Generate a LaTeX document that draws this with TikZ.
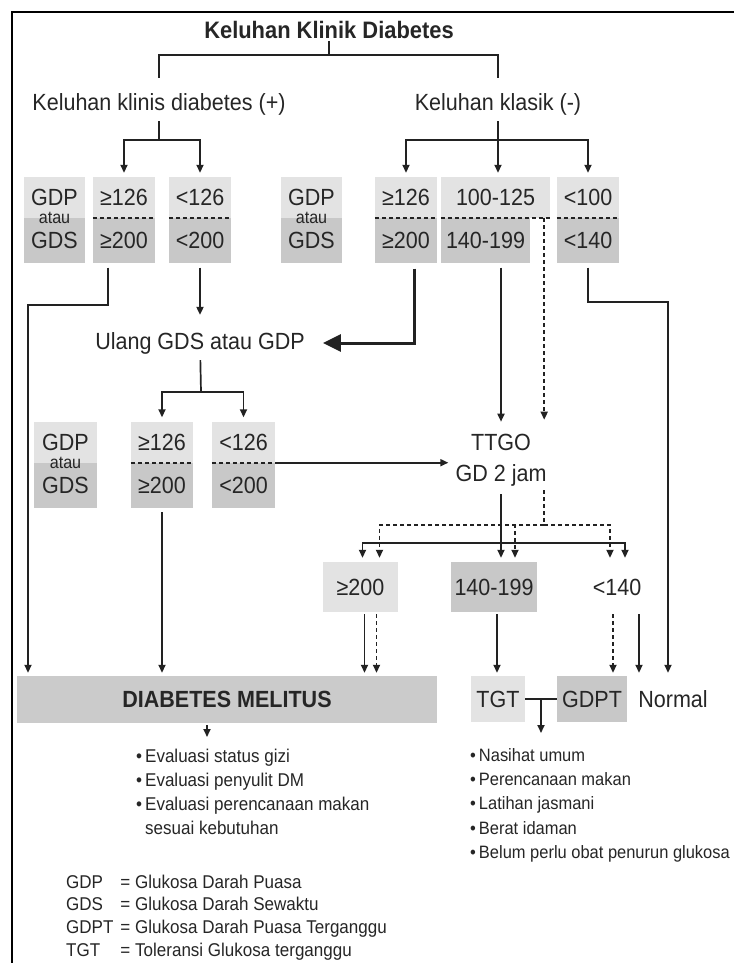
\documentclass[tikz,border=0pt]{standalone}
\usepackage{fontspec}
\setmainfont{Liberation Sans}[FakeStretch=0.92]
\usetikzlibrary{positioning, arrows.meta, calc}
\definecolor{boxlight}{HTML}{E3E3E3}
\definecolor{boxdark}{HTML}{C8C8C8}
\definecolor{dmgray}{HTML}{CBCBCB}
\definecolor{teks}{HTML}{262626}
\definecolor{garis}{HTML}{222222}
\tikzstyle{lbl} = [text=teks, inner sep=2pt, font=\fontsize{23.4}{28}\selectfont]
\tikzstyle{judulfont} = [text=teks, inner sep=2pt, font=\bfseries\fontsize{23.8}{28}\selectfont]
\tikzstyle{hibox} = [lbl, fill=boxlight, minimum width=62pt, minimum height=41pt, inner sep=0pt]
\tikzstyle{lobox} = [lbl, fill=boxdark, minimum width=62pt, minimum height=45pt, inner sep=0pt]
\tikzstyle{polos} = [lbl, minimum height=50pt, inner sep=0pt]
\tikzstyle{kecil} = [lbl, font=\fontsize{17.5}{20}\selectfont]
\tikzstyle{pisah} = [garis, line width=1.6pt, dash pattern=on 4.5pt off 2.5pt]
\tikzstyle{ln} = [garis, line width=1.7pt]
\tikzstyle{dln} = [ln, dash pattern=on 4pt off 3pt]
\tikzstyle{arr} = [ln, -{Triangle[length=8pt,width=7pt]}]
\tikzstyle{darr} = [arr, dash pattern=on 4pt off 3pt]
\tikzstyle{bigarr} = [garis, line width=3pt, -{Triangle[length=18pt,width=17pt]}]
\tikzstyle{daftar} = [text=teks, inner sep=0pt, anchor=north west, font=\fontsize{18.5}{24}\selectfont]

\begin{document}
\begin{tikzpicture}[x=1pt, y=-1pt]
\path[use as bounding box, fill=white] (0,0) rectangle (734,963);
\draw[line width=2.6pt] (12,963) -- (12,12) -- (734,12);

\node[judulfont] (judul) at (329,30) {Keluhan Klinik Diabetes};
\node[lbl] (klinis) at (159,104) {Keluhan klinis diabetes (+)};
\node[lbl] (klasik) at (498,104) {Keluhan klasik (-)};
\coordinate (j1) at (329,55);
\draw[ln] (judul) -- (j1);
\draw[ln, shorten >=13pt] (j1) -| (klinis.north);
\draw[ln, shorten >=13pt] (j1) -| (klasik.north);

\node[hibox, minimum width=61pt] (gdp1a) at (54.5,197.5) {GDP};
\node[lobox, minimum width=61pt, below=0pt] at (gdp1a.south) (gdp1b) {GDS};
\node[kecil] (atau1) at (gdp1a.south) {atau};
\node[hibox] (a1a) at (124,197.5) {≥126};
\node[lobox, below=0pt] at (a1a.south) (a1b) {≥200};
\draw[pisah] (a1a.south west) -- (a1a.south east);
\node[hibox] (b1a) at (200,197.5) {<126};
\node[lobox, below=0pt] at (b1a.south) (b1b) {<200};
\draw[pisah] (b1a.south west) -- (b1a.south east);

\node[hibox, minimum width=61pt] (gdp2a) at (311.5,197.5) {GDP};
\node[lobox, minimum width=61pt, below=0pt] at (gdp2a.south) (gdp2b) {GDS};
\node[kecil] (atau2) at (gdp2a.south) {atau};
\node[hibox] (c1a) at (406,197.5) {≥126};
\node[lobox, below=0pt] at (c1a.south) (c1b) {≥200};
\draw[pisah] (c1a.south west) -- (c1a.south east);
\node[hibox, minimum width=109pt] (d1a) at (495.5,197.5) {100-125};
\node[lobox, minimum width=89pt, below right=0pt] at (d1a.south west) (d1b) {140-199};
\draw[pisah] (d1a.south west) -- (d1a.south east);
\node[hibox] (e1a) at (588,197.5) {<100};
\node[lobox, below=0pt] at (e1a.south) (e1b) {<140};
\draw[pisah] (e1a.south west) -- (e1a.south east);

\coordinate (k1) at (159,140);
\draw[ln, shorten <=4pt] (klinis) -- (k1);
\draw[arr, shorten >=4pt] (k1) -| (a1a.north);
\draw[arr, shorten >=4pt] (k1) -| (b1a.north);
\coordinate (k2) at (498,140);
\draw[ln, shorten <=4pt] (klasik) -- (k2);
\draw[arr, shorten >=4pt] (k2) -| (c1a.north);
\draw[arr, shorten >=4pt] (k2) -- (k2 |- d1a.north);
\draw[arr, shorten >=4pt] (k2) -| (e1a.north);

\node[lbl] (ulang) at (200,343) {Ulang GDS atau GDP};
\draw[arr, shorten <=4pt, shorten >=15pt] (b1b.south) -- (b1b.south |- ulang.north);
\draw[bigarr, shorten <=5pt, shorten >=16pt] ([xshift=8pt]c1b.south) |- (ulang.east);

\coordinate (u1) at (201,392);
\draw[ln, shorten <=4pt] (ulang) -- (u1);
\node[hibox, minimum width=63pt] (gdp3a) at (65.5,442) {GDP};
\node[lobox, minimum width=63pt, below=0pt] at (gdp3a.south) (gdp3b) {GDS};
\node[kecil] (atau3) at (gdp3a.south) {atau};
\node[hibox] (a2a) at (162,442) {≥126};
\node[lobox, below=0pt] at (a2a.south) (a2b) {≥200};
\draw[pisah] (a2a.south west) -- (a2a.south east);
\node[hibox, minimum width=63pt] (b2a) at (243.5,442) {<126};
\node[lobox, minimum width=63pt, below=0pt] at (b2a.south) (b2b) {<200};
\draw[pisah] (b2a.south west) -- (b2a.south east);
\draw[arr, shorten >=4pt] (u1) -| (a2a.north);
\draw[arr, shorten >=4pt] (u1) -| (b2a.north);

\node[lbl, align=center, font=\fontsize{23.4}{31}\selectfont] (ttgo) at (501,460) {TTGO\\GD 2 jam};
\draw[arr, shorten >=5pt] (b2a.south east) -- (b2a.south east -| ttgo.west);
\draw[arr, shorten <=4pt, shorten >=10pt] (ttgo.north |- d1b.south) -- (ttgo.north);
\coordinate (dd) at ([xshift=-6pt]d1a.south east);
\draw[darr, shorten >=12pt] (dd) -- (dd |- ttgo.north);

\node[hibox, minimum width=75pt, minimum height=50pt] (f3) at (360.5,587) {≥200};
\node[lobox, minimum width=86pt, minimum height=50pt] (g3) at (494,587) {140-199};
\node[polos] (h3) at (617,587) {<140};

\coordinate (s1) at (501,543);
\draw[arr, shorten <=6pt, shorten >=4pt] (ttgo.south) -- (ttgo.south |- g3.north);
\draw[arr, shorten >=4pt] (s1) -| ([xshift=2pt]f3.north);
\draw[arr, shorten >=4pt] (s1) -| ([xshift=8pt]h3.north);
\coordinate (s2) at (544,525);
\draw[dln, shorten <=2pt] (s2 |- ttgo.south) -- (s2);
\draw[darr, shorten >=4pt] (s2) -| ([xshift=19pt]f3.north);
\draw[darr, shorten >=4pt] (s2) -| ([xshift=21pt]g3.north);
\draw[darr, shorten >=4pt] (s2) -| ([xshift=-7pt]h3.north);

\node[lobox, fill=dmgray, minimum width=420pt, minimum height=47pt, font=\bfseries\fontsize{23.4}{28}\selectfont] (dm) at (227,699.5) {DIABETES MELITUS};
\node[hibox, minimum width=54pt, minimum height=46pt] (tgt) at (498,699) {TGT};
\node[lobox, minimum width=70pt, minimum height=46pt] (gdpt) at (592,699) {GDPT};
\node[polos, minimum height=46pt] (normal) at (673,699) {Normal};
\draw[ln] (tgt) -- (gdpt);

\coordinate (p1) at (28,305);
\draw[arr, shorten <=4pt, shorten >=3pt] ([xshift=-16pt]a1b.south) |- (p1) -- (p1 |- dm.north);
\draw[arr, shorten <=4pt, shorten >=3pt] (a2b.south) -- (a2b.south |- dm.north);
\draw[arr, shorten <=2pt, shorten >=3pt] ([xshift=4pt]f3.south) -- ([xshift=4pt]f3.south |- dm.north);
\draw[darr, shorten <=2pt, shorten >=3pt] ([xshift=16pt]f3.south) -- ([xshift=16pt]f3.south |- dm.north);
\draw[arr, shorten <=2pt, shorten >=3pt] ([xshift=3pt]g3.south) -- ([xshift=3pt]g3.south |- tgt.north);
\draw[darr, shorten <=2pt, shorten >=3pt] ([xshift=-4pt]h3.south) -- ([xshift=-4pt]h3.south |- gdpt.north);
\draw[arr, shorten <=2pt, shorten >=3pt] ([xshift=22pt]h3.south) -- ([xshift=22pt]h3.south |- normal.north);
\coordinate (q1) at (668,302);
\draw[arr, shorten <=4pt, shorten >=3pt] (e1b.south) |- (q1) -- (q1 |- normal.north);

\node[daftar] (evaluasi) at (136,745) {\begin{tabular}{@{}l@{\hspace{3pt}}l@{}}
\textbullet & Evaluasi status gizi\\
\textbullet & Evaluasi penyulit DM\\
\textbullet & Evaluasi perencanaan makan\\
 & sesuai kebutuhan
\end{tabular}};
\node[daftar, font=\fontsize{17.9}{24.3}\selectfont] (saran) at (470,744) {\begin{tabular}{@{}l@{\hspace{3pt}}l@{}}
\textbullet & Nasihat umum\\
\textbullet & Perencanaan makan\\
\textbullet & Latihan jasmani\\
\textbullet & Berat idaman\\
\textbullet & Belum perlu obat penurun glukosa
\end{tabular}};
\draw[arr, shorten <=2pt, shorten >=8pt] ([xshift=-20pt]dm.south) -- ([xshift=-20pt]dm.south |- evaluasi.north);
\coordinate (t1) at ($(tgt.east)!0.5!(gdpt.west)$);
\draw[arr, shorten >=11pt] (t1) -- (t1 |- saran.north);

\node[daftar, font=\fontsize{18.5}{22.7}\selectfont] (ket) at (66,872) {\begin{tabular}{@{}l@{\hspace{7pt}}l@{}}
GDP & = Glukosa Darah Puasa\\
GDS & = Glukosa Darah Sewaktu\\
GDPT & = Glukosa Darah Puasa Terganggu\\
TGT & = Toleransi Glukosa terganggu
\end{tabular}};
\end{tikzpicture}
\end{document}
